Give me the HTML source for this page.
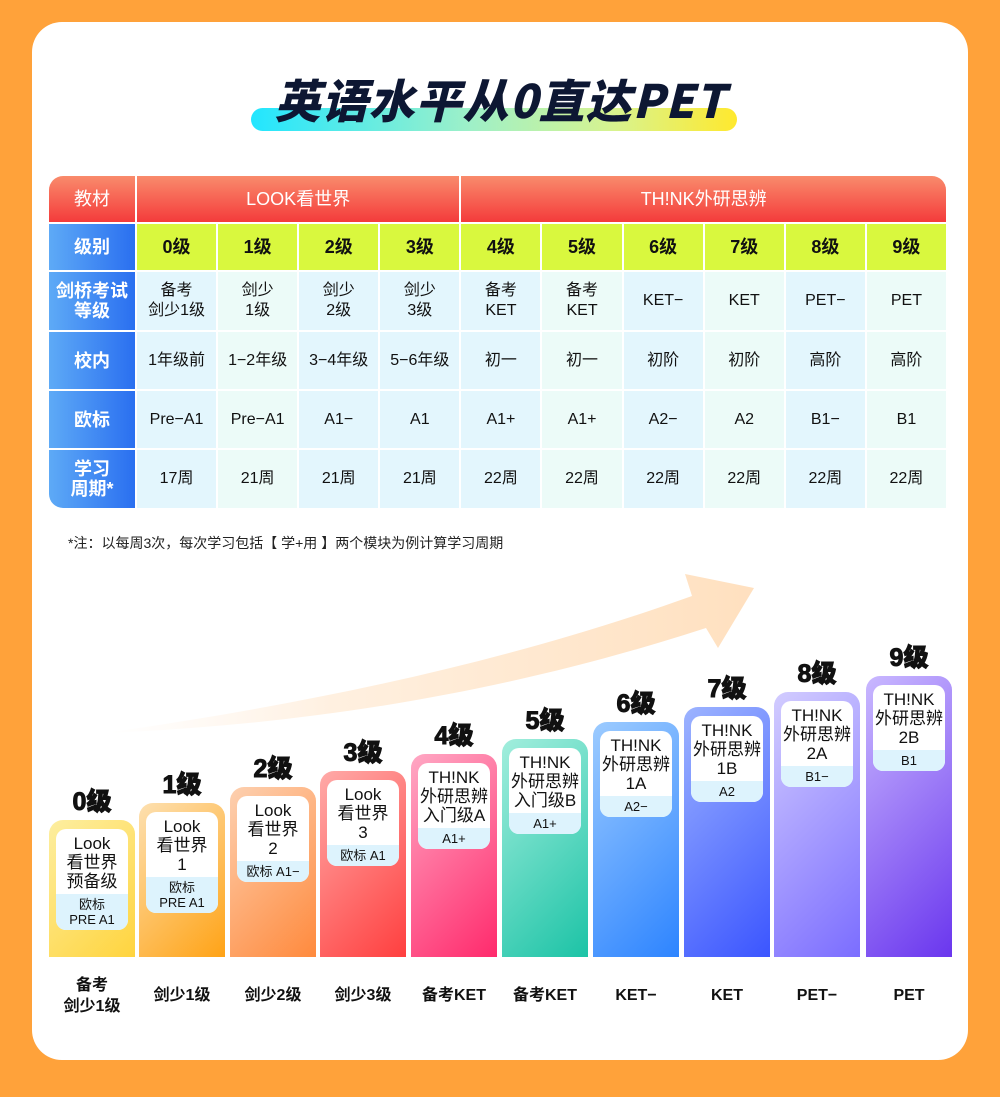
<!DOCTYPE html>
<html><head><meta charset="utf-8">
<style>
*{margin:0;padding:0;box-sizing:border-box}
body{width:1000px;height:1097px;background:#ffa23a;font-family:"Liberation Sans","Noto Sans CJK SC",sans-serif;position:relative;overflow:hidden}
.card{position:absolute;left:32px;top:22px;width:936px;height:1038px;background:#fff;border-radius:30px}
.hl{position:absolute;left:251px;top:108px;width:486px;height:23px;border-radius:12px;background:linear-gradient(90deg,#22e6ff,#9ef0c8 45%,#d8f38e 75%,#ffe92e)}
.title{position:absolute;left:0;width:1000px;top:66px;text-align:center;font-size:46px;font-weight:900;font-style:italic;color:#0d1733;letter-spacing:1px;font-family:"Noto Sans CJK SC",sans-serif}
.tbl{position:absolute;left:49px;top:176px;width:897px;display:grid;grid-template-columns:86px repeat(10,1fr);grid-template-rows:46px 46px 58px 57px 57px 58px;gap:2px;background:#fff;border-radius:14px 14px 0 14px;overflow:hidden}
.tbl div{display:flex;align-items:center;justify-content:center;text-align:center;font-size:16px;line-height:20px;color:#111}
.h{background:linear-gradient(#f98b6c,#f43b3b);color:#fff!important;font-size:18px!important}
.b{background:linear-gradient(90deg,#5eaaf6,#2a6ff0);color:#fff!important;font-size:18px!important;font-weight:bold}
.y{background:#d9f83e;font-size:18px!important;font-weight:bold}
.c1{background:#e3f6fd}.c2{background:#ecfbf8}
.note{position:absolute;left:68px;top:533px;font-size:14px;color:#222}
.bar{position:absolute;width:86px;bottom:140px;border-radius:14px 14px 0 0}
.lv{position:absolute;width:86px;text-align:center;font-size:25px;font-weight:900;color:#111;-webkit-text-stroke:1px #111;text-shadow:0 0 2px #fff,1px 1px 0 #fff,-1px -1px 0 #fff}
.ic{position:absolute;left:7px;right:7px;top:9px;border-radius:10px;overflow:hidden;background:#fff;text-align:center}
.ic .w{padding:5px 0 3px;font-size:17px;line-height:19px;color:#111}
.ic .s{background:#ddf3fd;font-size:13px;line-height:15px;padding:3px 0 3px;color:#111}
.bl{position:absolute;top:985px;width:90px;text-align:center;font-size:16px;font-weight:bold;color:#111;line-height:21px}
</style></head><body>
<div class="card"></div>
<div class="hl"></div>
<div class="title">英语水平从0直达PET</div>
<div class="tbl">
<div class="h">教材</div><div class="h" style="grid-column:span 4">LOOK看世界</div><div class="h" style="grid-column:span 6">TH!NK外研思辨</div>
<div class="b">级别</div><div class="y">0级</div><div class="y">1级</div><div class="y">2级</div><div class="y">3级</div><div class="y">4级</div><div class="y">5级</div><div class="y">6级</div><div class="y">7级</div><div class="y">8级</div><div class="y">9级</div>
<div class="b">剑桥考试<br>等级</div><div class="c1">备考<br>剑少1级</div><div class="c2">剑少<br>1级</div><div class="c1">剑少<br>2级</div><div class="c1">剑少<br>3级</div><div class="c1">备考<br>KET</div><div class="c2">备考<br>KET</div><div class="c1">KET−</div><div class="c2">KET</div><div class="c1">PET−</div><div class="c2">PET</div>
<div class="b">校内</div><div class="c1">1年级前</div><div class="c2">1−2年级</div><div class="c1">3−4年级</div><div class="c1">5−6年级</div><div class="c1">初一</div><div class="c2">初一</div><div class="c1">初阶</div><div class="c2">初阶</div><div class="c1">高阶</div><div class="c2">高阶</div>
<div class="b">欧标</div><div class="c1">Pre−A1</div><div class="c2">Pre−A1</div><div class="c1">A1−</div><div class="c1">A1</div><div class="c1">A1+</div><div class="c2">A1+</div><div class="c1">A2−</div><div class="c2">A2</div><div class="c1">B1−</div><div class="c2">B1</div>
<div class="b">学习<br>周期*</div><div class="c1">17周</div><div class="c2">21周</div><div class="c1">21周</div><div class="c1">21周</div><div class="c1">22周</div><div class="c2">22周</div><div class="c1">22周</div><div class="c2">22周</div><div class="c1">22周</div><div class="c2">22周</div>
</div>
<div class="note">*注：以每周3次，每次学习包括【 学+用 】两个模块为例计算学习周期</div>
<svg style="position:absolute;left:0;top:0" width="1000" height="1097">
<defs><linearGradient id="ag" x1="0" x2="1" y1="0" y2="0"><stop offset="0" stop-color="#fff4ea" stop-opacity="0"/><stop offset="0.35" stop-color="#fff0e0"/><stop offset="1" stop-color="#ffe0bf"/></linearGradient></defs>
<path d="M105,733 C300,705 500,665 692,596 L685,574 L754,588 L718,648 L706,628 C500,695 300,725 105,733 Z" fill="url(#ag)"/>
</svg>
<div id="bars"></div>
<script>
var d=[
[49,820,'0级','Look<br>看世界<br>预备级','欧标<br>PRE A1','#fdeea0','#ffd43e','备考<br>剑少1级'],
[139,803,'1级','Look<br>看世界<br>1','欧标<br>PRE A1','#fde0b0','#ffa316','剑少1级'],
[230,787,'2级','Look<br>看世界<br>2','欧标 A1−','#fdd0b0','#ff8a3d','剑少2级'],
[320,771,'3级','Look<br>看世界<br>3','欧标 A1','#ffaaa8','#ff3f3f','剑少3级'],
[411,754,'4级','TH!NK<br>外研思辨<br>入门级A','A1+','#ffa8c4','#ff2a6c','备考KET'],
[502,739,'5级','TH!NK<br>外研思辨<br>入门级B','A1+','#a2eedd','#1cc3a6','备考KET'],
[593,722,'6级','TH!NK<br>外研思辨<br>1A','A2−','#9ccbff','#2d84ff','KET−'],
[684,707,'7级','TH!NK<br>外研思辨<br>1B','A2','#9cb3ff','#3b55ff','KET'],
[774,692,'8级','TH!NK<br>外研思辨<br>2A','B1−','#d2ccff','#7b6dff','PET−'],
[866,676,'9级','TH!NK<br>外研思辨<br>2B','B1','#c9b8ff','#6a36ee','PET']];
var h='';
d.forEach(function(a){
h+='<div class="lv" style="left:'+a[0]+'px;top:'+(a[1]-38)+'px">'+a[2]+'</div>';
h+='<div class="bar" style="left:'+a[0]+'px;top:'+a[1]+'px;background:linear-gradient(135deg,'+a[5]+','+a[6]+')"><div class="ic"><div class="w">'+a[3]+'</div><div class="s">'+a[4]+'</div></div></div>';
h+='<div class="bl" style="left:'+(a[0]-2)+'px;top:'+(a[7].indexOf('<br>')>0?975:985)+'px">'+a[7]+'</div>';
});
document.getElementById('bars').innerHTML=h;
</script>
</body></html>
